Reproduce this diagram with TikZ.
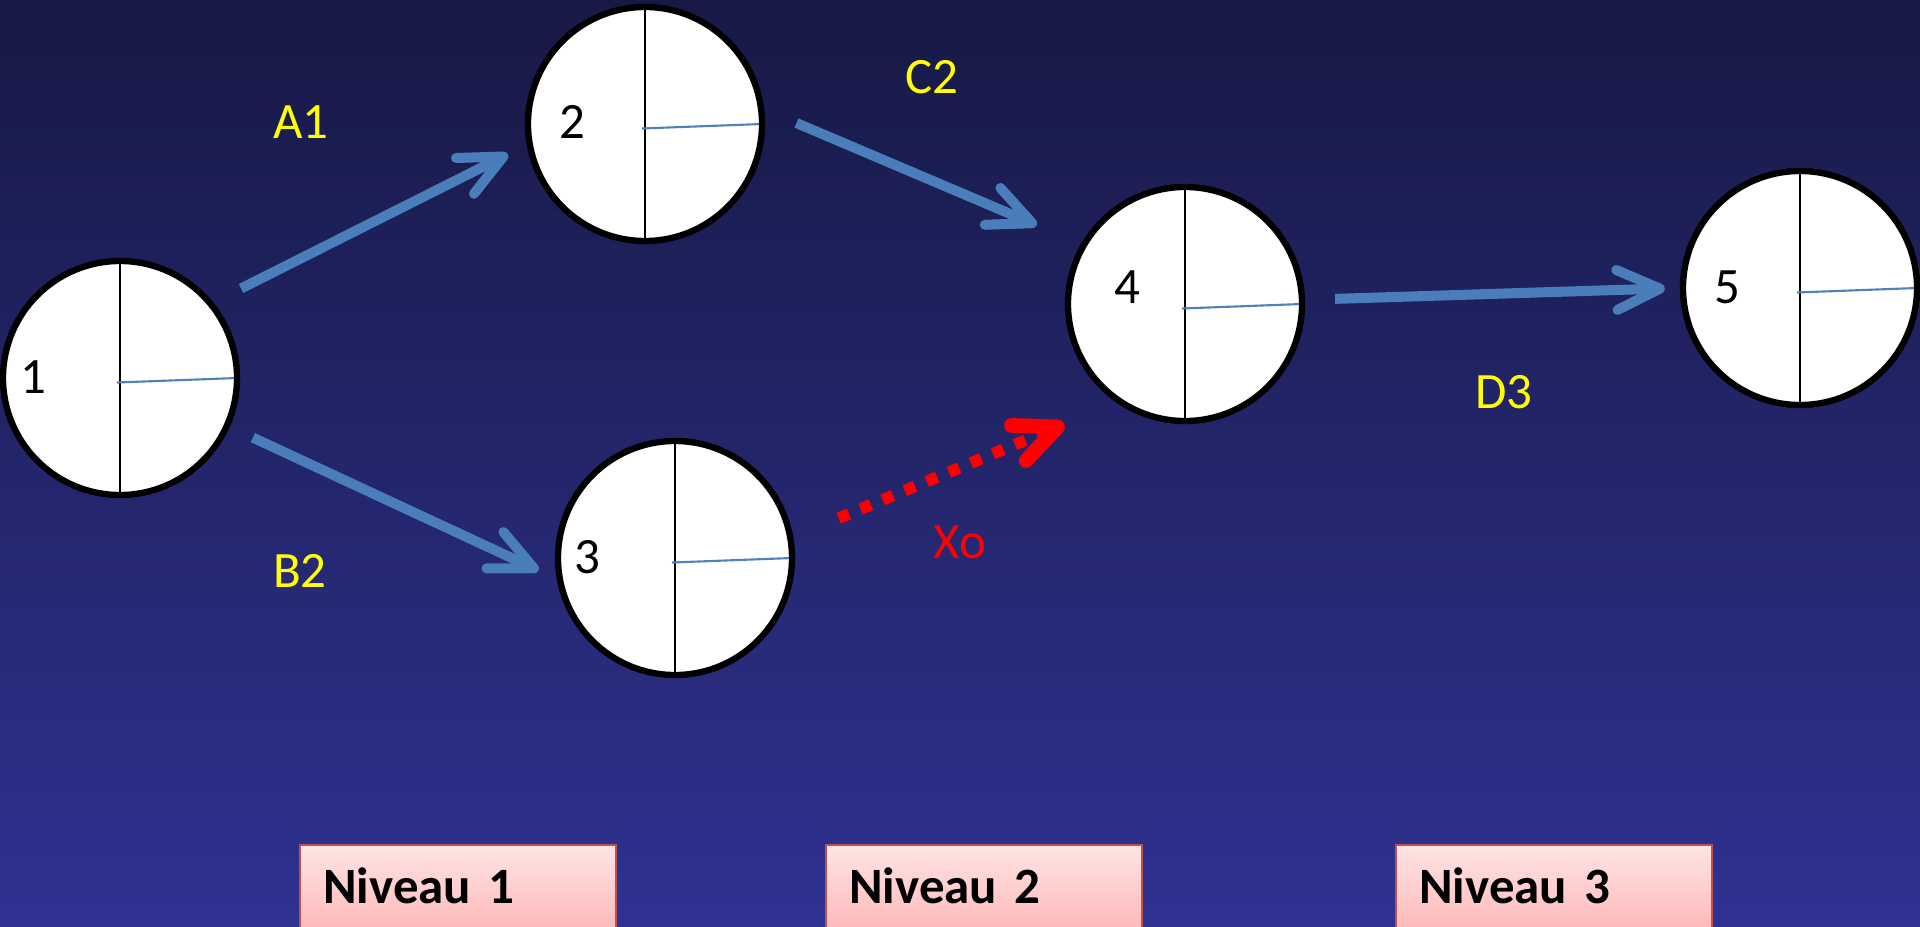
\documentclass[tikz,border=0pt]{standalone}
\usepackage{fontspec}
\setmainfont{Carlito}
\usetikzlibrary{arrows.meta, calc}
\definecolor{cnavytop}{HTML}{171945}
\definecolor{cnavymid}{HTML}{24277A}
\definecolor{cnavybot}{HTML}{2F3291}
\definecolor{carrow}{HTML}{4A7EBB}
\definecolor{cradius}{HTML}{4F81BD}
\definecolor{cyellow}{HTML}{FFFF00}
\definecolor{cred}{HTML}{FF0000}
\definecolor{cpinktop}{HTML}{FFE4E4}
\definecolor{cpinkbot}{HTML}{FF9A9A}
\definecolor{cframe}{HTML}{C0504D}
\tikzset{
  every picture/.style={font=\fontsize{14.5}{17}\selectfont},
  event/.style={circle, draw=black, line width=1.8pt, fill=white, minimum size=2.34cm, inner sep=0pt,
    path picture={
      \draw[black, line width=0.55pt] (path picture bounding box.north) -- (path picture bounding box.south);
      \draw[cradius, line width=0.6pt] ($(path picture bounding box.center)+(-0.03,-0.045)$) -- (path picture bounding box.east);
    }},
  num/.style={text=black, inner sep=0pt},
  tag/.style={text=cyellow, inner sep=0pt},
  arrow/.style={-{Straight Barb[round, length=4.3mm, width=4mm]}, draw=carrow, line width=2.85pt},
  dummy/.style={-{Straight Barb[round, length=4.2mm, width=3.8mm, line width=4.2pt]}, draw=cred, line width=3.3pt, dash pattern=on 3.2pt off 3.6pt},
  level/.style={draw=cframe, line width=0.7pt, top color=cpinktop, bottom color=cpinkbot, font=\fontsize{14.5}{17}\selectfont\bfseries,
    align=left, text width=2.7cm, inner xsep=0.23cm, inner ysep=0.26cm, text height=0.32cm, text depth=0.6cm, anchor=north west},
}
\begin{document}
\begin{tikzpicture}
  \useasboundingbox (0,0) rectangle (19.2,9.26);
  \shade[top color=cnavytop, middle color=cnavymid, bottom color=cnavybot] (0,0) rectangle (19.2,9.26);
  \node[event] (n1) at (1.20,5.48) {};
  \node[event] (n2) at (6.45,8.02) {};
  \node[event] (n3) at (6.75,3.68) {};
  \node[event] (n4) at (11.85,6.22) {};
  \node[event] (n5) at (18.00,6.38) {};
  \node[num] (t1) at ([shift={(-0.87,0.01)}]n1.center) {1};
  \node[num] (t2) at ([shift={(-0.73,0.02)}]n2.center) {2};
  \node[num] (t3) at ([shift={(-0.88,0.01)}]n3.center) {3};
  \node[num] (t4) at ([shift={(-0.58,0.17)}]n4.center) {4};
  \node[num] (t5) at ([shift={(-0.73,0.01)}]n5.center) {5};
  \draw[arrow, shorten <=0.31cm, shorten >=0.21cm] (n1.39.5) -- (n2.190.4);
  \draw[arrow, shorten <=0.255cm, shorten >=0.20cm] (n1.336.4) -- (n3.190.9);
  \draw[arrow, shorten <=0.35cm, shorten >=0.48cm] (n2.7.5) -- (n4.150);
  \draw[arrow, shorten <=0.30cm, shorten >=0.15cm] (n4.2.5) -- (n5.180.3);
  \draw[dummy, shorten <=0.49cm, shorten >=0.56cm] (n3.10.3) -- (n4.235.2);
  \node[tag] (a1) at (3.01,8.04) {A1};
  \node[tag] (b2) at (3.00,3.55) {B2};
  \node[tag] (c2) at (9.32,8.49) {C2};
  \node[tag] (d3) at (15.04,5.34) {D3};
  \node[tag, text=cred] (xo) at (9.60,3.84) {Xo};
  \node[level] (lv1) at (2.99,0.82) {Niveau 1};
  \node[level] (lv2) at (8.25,0.82) {Niveau 2};
  \node[level] (lv3) at (13.95,0.82) {Niveau 3};
\end{tikzpicture}
\end{document}
